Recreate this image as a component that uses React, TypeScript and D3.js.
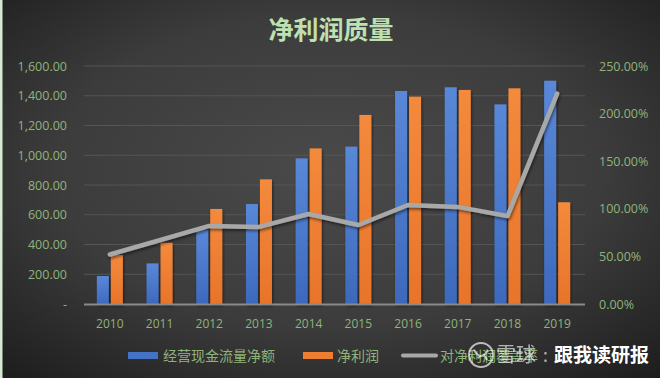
import React from "react";
import * as d3 from "d3";

const years = ["2010", "2011", "2012", "2013", "2014", "2015", "2016", "2017", "2018", "2019"];
const cashFlow = [188, 273, 500, 672, 979, 1058, 1432, 1457, 1342, 1501];
const netProfit = [330, 412, 639, 838, 1046, 1271, 1394, 1439, 1450, 684];
const coverage = [0.52, 0.67, 0.82, 0.81, 0.945, 0.83, 1.04, 1.02, 0.924, 2.21];
const leftTicks = [0, 200, 400, 600, 800, 1000, 1200, 1400, 1600];
const rightTicks = [0, 0.5, 1, 1.5, 2, 2.5];
const seriesNames = ["经营现金流量净额", "净利润", "对净利润覆盖率"];
const title = "净利润质量";

const W = 660;
const H = 378;
const CJK = "'Noto Sans CJK SC', 'Noto Sans', sans-serif";
const NUM = "'Open Sans', 'Noto Sans', sans-serif";
const labelColor = "#8fb47a";

export default function App() {
  const x = d3.scaleBand<string>().domain(years).range([85, 582]).paddingInner(0).paddingOuter(0);
  const yL = d3.scaleLinear().domain([0, 1600]).range([304, 66]);
  const yR = d3.scaleLinear().domain([0, 2.5]).range([304, 66]);
  const barW = 12;
  const gap = 2;
  const lineGen = d3
    .line<number>()
    .x((_, i) => (x(years[i]) as number) + x.bandwidth() / 2)
    .y((d) => yR(d));
  const fmtL = (v: number) => (v === 0 ? "-" : d3.format(",.2f")(v));
  const fmtR = (v: number) => d3.format(".2%")(v);

  return (
    <svg width={W} height={H} style={{ position: "absolute", left: 0, top: 0, display: "block" }}>
      <defs>
        <radialGradient id="bg" cx="50%" cy="45%" r="75%">
          <stop offset="0%" stopColor="#4a4a4a" />
          <stop offset="55%" stopColor="#3c3c3c" />
          <stop offset="100%" stopColor="#1c1c1c" />
        </radialGradient>
        <linearGradient id="blueG" x1="0" y1="0" x2="0" y2="1">
          <stop offset="0%" stopColor="#5a88d8" />
          <stop offset="100%" stopColor="#3d69bd" />
        </linearGradient>
        <linearGradient id="orangeG" x1="0" y1="0" x2="0" y2="1">
          <stop offset="0%" stopColor="#f48a3c" />
          <stop offset="100%" stopColor="#e8742a" />
        </linearGradient>
        <filter id="shadow" x="-20%" y="-20%" width="140%" height="140%">
          <feDropShadow dx="1" dy="2" stdDeviation="1.5" floodColor="#000" floodOpacity="0.5" />
        </filter>
      </defs>
      <rect x={0} y={0} width={W} height={H} fill="url(#bg)" />
      <rect x={0} y={0} width={2.5} height={H} fill="#d6ead2" />

      <text x={331} y={39} textAnchor="middle" fontFamily={CJK} fontWeight={700} fontSize={25} fill="#bfe0b0">
        {title}
      </text>

      {leftTicks.map((t) => (
        <g key={"g" + t}>
          {t > 0 && <line x1={84} x2={585} y1={yL(t)} y2={yL(t)} stroke="#555" strokeWidth={1} />}
          <text x={67} y={yL(t) + 4.5} textAnchor="end" fontFamily={NUM} fontSize={12.5} fill={labelColor}>
            {fmtL(t)}
          </text>
        </g>
      ))}
      {rightTicks.map((t) => (
        <text key={"r" + t} x={599} y={yR(t) + 4.5} textAnchor="start" fontFamily={NUM} fontSize={12.5} fill={labelColor}>
          {fmtR(t)}
        </text>
      ))}

      {years.map((yr, i) => {
        const cx = (x(yr) as number) + x.bandwidth() / 2;
        return (
          <g key={yr}>
            <rect
              x={cx - gap / 2 - barW}
              y={yL(cashFlow[i])}
              width={barW}
              height={304 - yL(cashFlow[i])}
              fill="url(#blueG)"
              filter="url(#shadow)"
            />
            <rect
              x={cx + gap / 2}
              y={yL(netProfit[i])}
              width={barW}
              height={304 - yL(netProfit[i])}
              fill="url(#orangeG)"
              filter="url(#shadow)"
            />
            <text x={cx} y={328} textAnchor="middle" fontFamily={NUM} fontSize={12} fill={labelColor}>
              {yr}
            </text>
          </g>
        );
      })}

      <line x1={84} x2={585} y1={304.5} y2={304.5} stroke="#8a8a8a" strokeWidth={2} />

      <path
        d={lineGen(coverage) || ""}
        fill="none"
        stroke="#a8a8a8"
        strokeWidth={4.5}
        strokeLinejoin="round"
        strokeLinecap="round"
        filter="url(#shadow)"
      />

      {/* legend */}
      <rect x={128} y={352} width={30} height={7} fill="#4472c4" />
      <text x={163} y={361} fontFamily={CJK} fontSize={14} fill={labelColor}>
        {seriesNames[0]}
      </text>
      <rect x={303} y={352} width={30} height={7} fill="#ed7d31" />
      <text x={337} y={361} fontFamily={CJK} fontSize={14} fill={labelColor}>
        {seriesNames[1]}
      </text>
      <line x1={403} x2={436} y1={355.5} y2={355.5} stroke="#a8a8a8" strokeWidth={4} strokeLinecap="round" />
      <text x={440} y={361} fontFamily={CJK} fontSize={14} fill={labelColor}>
        {seriesNames[2]}
      </text>

      {/* watermark */}
      <g opacity={0.9}>
        <circle cx={481} cy={355} r={12} fill="none" stroke="#ffffff" strokeOpacity={0.75} strokeWidth={2} />
        <path d="M474,350 Q481,362 488,350 M478,358 Q484,352 487,360" fill="none" stroke="#ffffff" strokeOpacity={0.75} strokeWidth={2} />
        <text x={496} y={362} fontFamily={CJK} fontSize={20} fill="#ffffff" fillOpacity={0.7}>
          雪球
        </text>
        <text x={543} y={362} fontFamily={CJK} fontSize={18} fill="#ffffff" fillOpacity={0.7}>
          :
        </text>
      </g>
      <text x={554} y={362} fontFamily={CJK} fontWeight={700} fontSize={19} fill="#ffffff">
        跟我读研报
      </text>
    </svg>
  );
}
